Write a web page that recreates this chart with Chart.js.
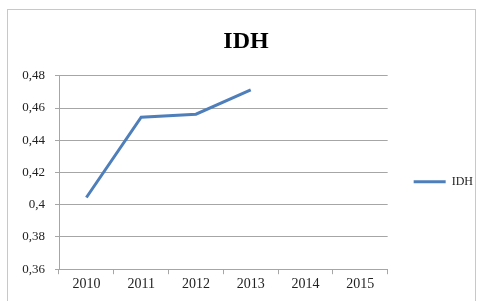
<!DOCTYPE html>
<html>
    <head>
        <title>IDH</title>
        <script src="https://cdn.jsdelivr.net/npm/chart.js@4/dist/chart.umd.min.js"></script>
        <style>
            body { margin: 0; background: #fff; }
            #frame {
                position: absolute; left: 7px; top: 9px; width: 469px; height: 300px;
                border: 1px solid #c8c8c8; box-sizing: border-box;
            }
            #wrap { position: absolute; left: 0; top: 0; width: 483px; height: 301px; }
        </style>
    </head>
    <body>
        <div id="frame"></div>
        <div id="wrap"><canvas id="myChart"></canvas></div>
        <script>
            // data
            var years = ['2010', '2011', '2012', '2013', '2014', '2015'];
            var idh = [0.4045, 0.4543, 0.4562, 0.4712, null, null];
            var yTicks = [0.36, 0.38, 0.40, 0.42, 0.44, 0.46, 0.48];

            var serif = "'Liberation Serif', 'DejaVu Serif', serif";

            var ctx = document.getElementById('myChart').getContext('2d');
            var chart = new Chart(ctx, {
                type: 'line',
                data: {
                    labels: years,
                    datasets: [{
                        label: 'IDH',
                        data: idh,
                        borderColor: '#4f7fba',
                        backgroundColor: '#4f7fba',
                        borderWidth: 3,
                        pointRadius: 0,
                        tension: 0,
                        fill: false
                    }]
                },
                options: {
                    responsive: true,
                    maintainAspectRatio: false,
                    animation: false,
                    layout: { padding: { left: 9, right: 0, top: 0, bottom: 6 } },
                    plugins: {
                        title: {
                            display: true,
                            text: 'IDH',
                            color: '#000',
                            font: { family: serif, size: 24, weight: 'bold' },
                            padding: { top: 27, bottom: 20 }
                        },
                        legend: {
                            position: 'right',
                            fullSize: false,
                            title: { display: true, text: ' ', padding: 2, font: { size: 12 } },
                            labels: {
                                usePointStyle: true,
                                pointStyle: 'line',
                                pointStyleWidth: 32,
                                boxWidth: 32,
                                color: '#222',
                                font: { family: serif, size: 12 },
                                padding: 26
                            }
                        },
                        tooltip: { enabled: false }
                    },
                    scales: {
                        x: {
                            offset: true,
                            grid: {
                                offset: true,
                                drawOnChartArea: false,
                                drawTicks: true,
                                tickLength: 5,
                                color: '#a6a6a6'
                            },
                            border: { color: '#a6a6a6' },
                            ticks: {
                                color: '#222',
                                font: { family: serif, size: 14 },
                                padding: 2
                            }
                        },
                        y: {
                            min: 0.36,
                            max: 0.48,
                            afterBuildTicks: function(scale) {
                                scale.ticks = yTicks.map(function(v) { return { value: v }; });
                            },
                            afterFit: function(scale) { scale.width = 50; },
                            grid: {
                                color: '#a6a6a6',
                                tickLength: 4
                            },
                            border: { color: '#a6a6a6' },
                            ticks: {
                                color: '#222',
                                font: { family: serif, size: 13 },
                                padding: 10,
                                callback: function(v) {
                                    return String(+v.toFixed(2)).replace('.', ',');
                                }
                            }
                        }
                    }
                }
            });
        </script>
    </body>
</html>
